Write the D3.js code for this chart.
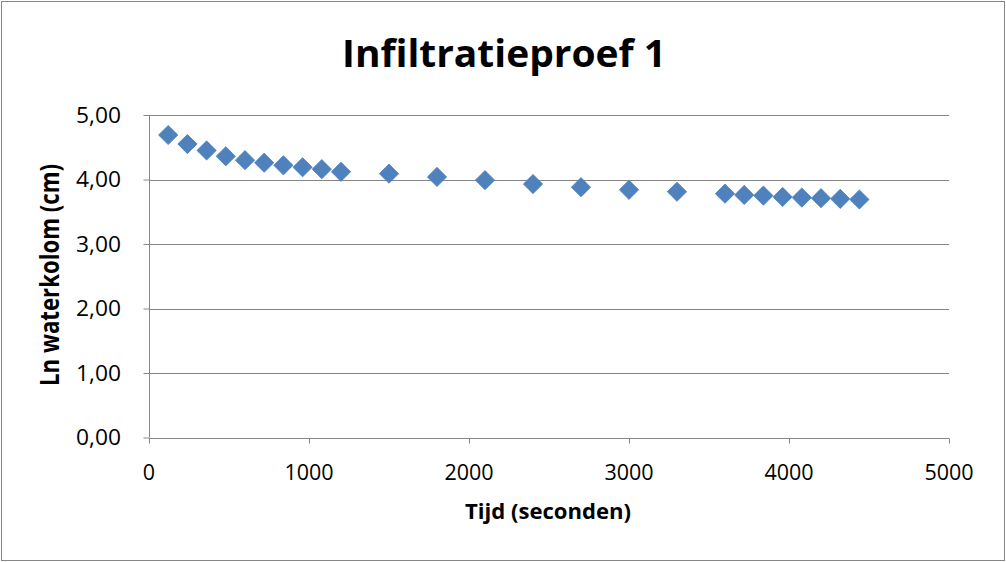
<!DOCTYPE html>
<html>
<head>
<meta charset="utf-8">
<script src="https://cdn.jsdelivr.net/npm/d3@7"></script>
<style>
  body { margin: 0; background: #fff; }
  text { font-family: "Open Sans", "Noto Sans", sans-serif; fill: #000; }
</style>
</head>
<body>
<script>
// tijd in seconden
var tijd = [120, 240, 360, 480, 600, 720, 840, 960, 1080, 1200,
            1500, 1800, 2100, 2400, 2700, 3000, 3300,
            3600, 3720, 3840, 3960, 4080, 4200, 4320, 4440];
// ln van de waterkolom (cm)
var lnWater = [4.69, 4.55, 4.45, 4.36, 4.30, 4.26, 4.22, 4.19, 4.16, 4.12,
               4.09, 4.04, 3.99, 3.93, 3.88, 3.84, 3.81,
               3.78, 3.76, 3.75, 3.73, 3.72, 3.71, 3.70, 3.69];
var xTicks = [0, 1000, 2000, 3000, 4000, 5000];
var yTicks = [0, 1, 2, 3, 4, 5];

var width = 1006,
    height = 562;

var svg = d3.select("body")
    .append("svg")
    .attr("width", width)
    .attr("height", height);

// rand om de grafiek
svg.append("rect")
    .attr("x", 1.5).attr("y", 1.5)
    .attr("width", 1003).attr("height", 559)
    .attr("fill", "#fff")
    .attr("stroke", "#868686");

var x = d3.scaleLinear().domain([0, 5000]).range([149, 949]);
var y = d3.scaleLinear().domain([0, 5]).range([437.5, 115]);

var grey = "#868686";
var fmt = function(d) { return d3.format(".2f")(d).replace(".", ","); };

// rasterlijnen
svg.selectAll(".grid")
    .data(yTicks.filter(function(d) { return d > 0; }))
    .enter().append("line")
    .attr("x1", x(0)).attr("x2", x(5000))
    .attr("y1", function(d) { return Math.round(y(d)) + 0.5; })
    .attr("y2", function(d) { return Math.round(y(d)) + 0.5; })
    .attr("stroke", grey);

// assen
var xAxis = svg.append("g")
    .attr("transform", "translate(0," + (Math.round(y(0)) + 0.5) + ")")
    .call(d3.axisBottom(x).tickValues(xTicks).tickSize(5).tickFormat(""));
var yAxis = svg.append("g")
    .attr("transform", "translate(" + (x(0) + 0.5) + ",0)")
    .call(d3.axisLeft(y).tickValues(yTicks).tickSize(6).tickFormat(""));
[xAxis, yAxis].forEach(function(a) {
    a.selectAll("path, line").attr("stroke", grey);
    a.select(".domain").attr("d", a === xAxis ? "M" + x(0) + ",0H" + x(5000) : "M0," + y(5) + "V" + y(0));
});

// teksten: het beeld is horizontaal uitgerekt, dus breedte via textLength
function label(sel, txt, w) {
    sel.text(txt).attr("textLength", w).attr("lengthAdjust", "spacingAndGlyphs");
    return sel;
}

svg.selectAll(".xlab")
    .data(xTicks)
    .enter().append("text")
    .attr("x", function(d) { return x(d); })
    .attr("y", 480)
    .attr("text-anchor", "middle")
    .attr("font-size", 21)
    .each(function(d) {
        var s = String(d);
        label(d3.select(this), s, s.length * 12.3);
    });

svg.selectAll(".ylab")
    .data(yTicks)
    .enter().append("text")
    .attr("x", 121)
    .attr("y", function(d) { return y(d) + 7.5; })
    .attr("text-anchor", "end")
    .attr("font-size", 21)
    .each(function(d) { label(d3.select(this), fmt(d), 45); });

label(svg.append("text"), "Infiltratieproef 1", 324)
    .attr("x", 342).attr("y", 67)
    .attr("font-size", 38)
    .attr("font-weight", "bold");

label(svg.append("text"), "Tijd (seconden)", 166)
    .attr("x", 465).attr("y", 519)
    .attr("font-size", 22)
    .attr("font-weight", "bold");

svg.append("text")
    .attr("transform", "translate(59,275) scale(1.3,1) rotate(-90)")
    .attr("text-anchor", "middle")
    .attr("font-size", 21)
    .attr("font-weight", "bold")
    .text("Ln waterkolom (cm)")
    .attr("textLength", 222).attr("lengthAdjust", "spacingAndGlyphs");

// meetpunten als ruitjes
var diamond = d3.symbol().type(d3.symbolSquare).size(185);
svg.selectAll(".pt")
    .data(tijd)
    .enter().append("path")
    .attr("d", diamond)
    .attr("transform", function(d, i) {
        return "translate(" + x(d) + "," + y(lnWater[i]) + ") rotate(45)";
    })
    .attr("fill", "#4F81BD")
    .attr("stroke", "#4A7EBB")
    .attr("stroke-width", 0.75);
</script>
</body>
</html>
